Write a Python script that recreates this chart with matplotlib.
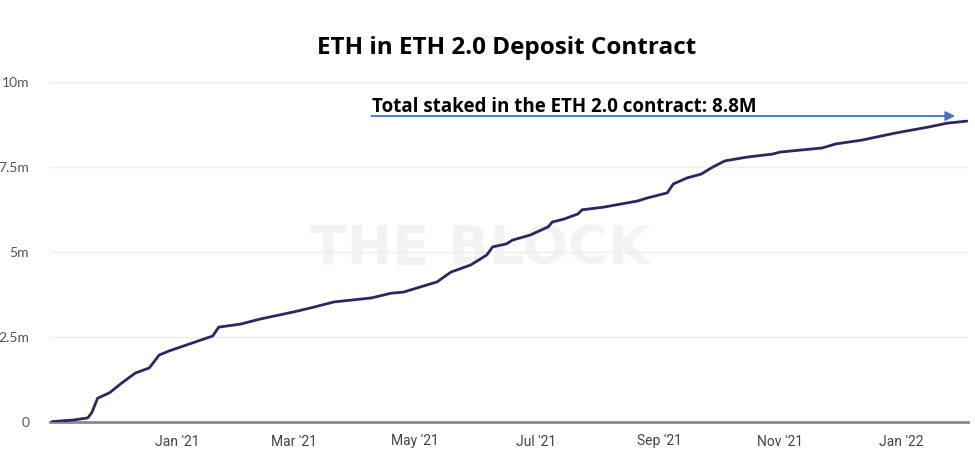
import matplotlib
matplotlib.use("Agg")
import matplotlib.pyplot as plt
import pandas as pd
import numpy as np

dates = [
    "2020-10-30", "2020-11-10", "2020-11-17", "2020-11-19", "2020-11-22", "2020-11-28",
    "2020-12-04", "2020-12-11", "2020-12-18", "2020-12-20", "2020-12-23", "2020-12-28",
    "2021-01-03", "2021-01-13", "2021-01-19", "2021-01-22", "2021-02-02", "2021-02-12",
    "2021-03-01", "2021-03-11", "2021-03-21", "2021-04-09", "2021-04-19", "2021-04-25",
    "2021-05-12", "2021-05-19", "2021-05-29", "2021-06-06", "2021-06-09", "2021-06-16",
    "2021-06-19", "2021-06-28", "2021-07-07", "2021-07-09", "2021-07-15", "2021-07-22",
    "2021-07-24", "2021-08-04", "2021-08-21", "2021-08-26", "2021-09-05", "2021-09-08",
    "2021-09-15", "2021-09-22", "2021-09-28", "2021-10-04", "2021-10-15", "2021-10-28",
    "2021-11-01", "2021-11-22", "2021-11-29", "2021-12-12", "2021-12-29", "2022-01-15",
    "2022-01-24", "2022-02-03",
]
eth_staked_m = [
    0.01, 0.06, 0.12, 0.27, 0.70, 0.86,
    1.14, 1.44, 1.59, 1.74, 1.97, 2.09,
    2.21, 2.41, 2.53, 2.79, 2.88, 3.03,
    3.24, 3.38, 3.53, 3.65, 3.79, 3.82,
    4.12, 4.41, 4.62, 4.91, 5.15, 5.24,
    5.35, 5.50, 5.74, 5.88, 5.97, 6.12,
    6.24, 6.32, 6.50, 6.59, 6.74, 7.00,
    7.18, 7.29, 7.50, 7.68, 7.79, 7.88,
    7.94, 8.06, 8.18, 8.29, 8.50, 8.68,
    8.79, 8.85,
]
ytick_values_m = [0, 2.5, 5, 7.5, 10]
ytick_labels = ["0", "2.5m", "5m", "7.5m", "10m"]
xtick_dates = ["2021-01-01", "2021-03-01", "2021-05-01", "2021-07-01", "2021-09-01", "2021-11-01", "2022-01-01"]
xtick_labels = ["Jan '21", "Mar '21", "May '21", "Jul '21", "Sep '21", "Nov '21", "Jan '22"]
title = "ETH in ETH 2.0 Deposit Contract"
annotation = "Total staked in the ETH 2.0 contract: 8.8M"
watermark = "THE BLOCK"

x = pd.to_datetime(dates)
y = np.array(eth_staked_m) * 1e6

fig = plt.figure(figsize=(9.75, 4.55), dpi=100)
ax = fig.add_axes([50 / 975, (455 - 422) / 455, (968 - 50) / 975, (422 - 82) / 455])

# watermark
ax.text(0.468, 0.51, watermark, transform=ax.transAxes, ha="center", va="center",
        fontsize=39, fontweight="bold", color="#f3f3f3", family="DejaVu Sans", zorder=0)

ax.plot(x, y, color="#2b2760", lw=2.0, zorder=3, solid_capstyle="round")

ax.set_xlim(x[0] - pd.Timedelta(days=1), x[-1] + pd.Timedelta(days=0.5))
ax.set_ylim(0, 10e6)

ax.set_yticks([v * 1e6 for v in ytick_values_m])
ax.set_yticklabels(ytick_labels)
ax.set_xticks(pd.to_datetime(xtick_dates))
ax.set_xticklabels(xtick_labels)

ax.grid(axis="y", color="#ececec", lw=1.0, zorder=0)
ax.set_axisbelow(True)
for s in ["top", "right", "left"]:
    ax.spines[s].set_visible(False)
ax.spines["bottom"].set_color("#8a8a8a")
ax.spines["bottom"].set_linewidth(2.0)
ax.spines["bottom"].set_zorder(2)
ax.tick_params(axis="both", length=0)
ax.tick_params(axis="y", pad=15, labelsize=10, labelcolor="#555555")
ax.tick_params(axis="x", pad=9, labelsize=10, labelcolor="#444444")
for lab in ax.get_xticklabels():
    lab.set_family("Roboto")
for lab in ax.get_yticklabels():
    lab.set_family("Lato")

fig.text(507 / 975, 1 - 48 / 455, title, ha="center", va="center",
         fontsize=17.5, fontweight="bold", family="Open Sans", color="#000000")

# annotation arrow
ax.annotate("", xy=(pd.Timestamp("2022-01-28"), 9.0e6),
            xytext=(pd.Timestamp("2021-04-09"), 9.0e6),
            arrowprops=dict(arrowstyle="-|>", color="#4472c4", lw=1.3,
                            mutation_scale=14, shrinkA=0, shrinkB=0), zorder=4)
ax.text(pd.Timestamp("2021-04-09"), 9.12e6, annotation, ha="left", va="baseline",
        fontsize=13.5, fontweight="bold", family="Open Sans", color="#000000")

fig.savefig("out.png", dpi=100, facecolor="white")
